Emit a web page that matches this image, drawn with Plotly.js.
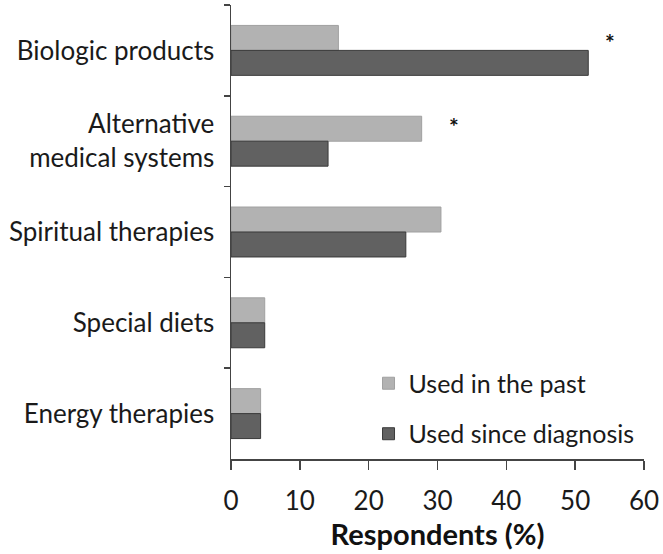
<!DOCTYPE html>
<html>
<head>
<meta charset="utf-8">
<script src="https://cdn.plot.ly/plotly-3.0.1.min.js"></script>
<style>html,body{margin:0;padding:0;background:#fff;}#chart{width:663px;height:554px;}</style>
</head>
<body>
<div id="chart"></div>
<script>
const categories = ["Biologic products", "Alternative<br>medical systems", "Spiritual therapies", "Special diets", "Energy therapies"];
const usedInPast = [15.6, 27.7, 30.5, 4.9, 4.3];
const usedSinceDiagnosis = [51.9, 14.1, 25.4, 4.9, 4.3];
const seriesNames = ["Used in the past", "Used since diagnosis"];
const xTicks = [0, 10, 20, 30, 40, 50, 60];
const significance = [{cat: "Biologic products", x: 55.1}, {cat: "Alternative<br>medical systems", x: 32.4}];

const FONT = "Lato, 'Open Sans', sans-serif";
const starYShift = [8, 15];

const traces = [
  {type: "bar", orientation: "h", name: seriesNames[0], legendgroup: "a", y: categories, x: usedInPast,
   marker: {color: "#b2b2b2", line: {color: "#a0a0a0", width: 1}}},
  {type: "bar", orientation: "h", name: seriesNames[1], legendgroup: "b", y: categories, x: usedSinceDiagnosis,
   marker: {color: "#616161", line: {color: "#3a3a3a", width: 1}}}
];

const annotations = significance.map((s, i) => ({
  x: s.x, y: s.cat, xref: "x", yref: "y", text: "<b>*</b>", showarrow: false,
  yshift: starYShift[i], font: {family: FONT, size: 23, color: "#111"}
}));

const layout = {
  width: 663, height: 554,
  margin: {l: 231, r: 19, t: 5, b: 95},
  paper_bgcolor: "#fff", plot_bgcolor: "#fff",
  barmode: "group", bargap: 0.45, bargroupgap: 0,
  font: {family: FONT, size: 25, color: "#1a1a1a"},
  showlegend: true,
  legend: {x: 0.333, xanchor: "left", y: 0.217, yanchor: "top", bgcolor: "rgba(0,0,0,0)",
           font: {family: FONT, size: 25, color: "#1a1a1a"}, itemwidth: 30, tracegroupgap: 15,
           traceorder: "grouped"},
  xaxis: {range: [0, 60], tickvals: xTicks, showgrid: false, zeroline: false,
          showline: true, linecolor: "#444", linewidth: 1.5,
          ticks: "outside", ticklen: 9, tickcolor: "#444", tickwidth: 1.5,
          ticklabelstandoff: 9,
          tickfont: {family: FONT, size: 26, color: "#1a1a1a"},
          title: {text: "<b>Respondents (%)</b>", font: {family: FONT, size: 29, color: "#111"}, standoff: 6}},
  yaxis: {autorange: "reversed", showgrid: false, zeroline: false,
          showline: true, linecolor: "#444", linewidth: 1.5,
          ticks: "outside", tickson: "boundaries", ticklen: 6, tickcolor: "#444", tickwidth: 1.5,
          ticklabelstandoff: 10,
          tickfont: {family: FONT, size: 26, color: "#1a1a1a"}},
  annotations: annotations
};

Plotly.newPlot("chart", traces, layout, {displayModeBar: false, staticPlot: true});
</script>
</body>
</html>
